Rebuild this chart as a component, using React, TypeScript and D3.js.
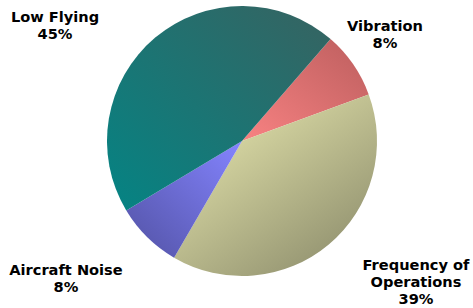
import React from 'react';
import * as d3 from 'd3';

const CATEGORIES = ['Vibration', 'Frequency of Operations', 'Aircraft Noise', 'Low Flying'];
const SHARES = [8, 39, 8, 45];
const LABEL_LINES = [['Vibration'], ['Frequency of', 'Operations'], ['Aircraft Noise'], ['Low Flying']];

// light -> dark stops per slice, plus gradient direction
const GRADS = [
  { from: '#f88282', to: '#bc5e5e', x1: 0, y1: 1, x2: 1, y2: 0 },
  { from: '#eaeab0', to: '#8a8a6a', x1: 0.1, y1: 0, x2: 0.9, y2: 1 },
  { from: '#8484ff', to: '#5252a4', x1: 1, y1: 0, x2: 0, y2: 1 },
  { from: '#048484', to: '#326664', x1: 0, y1: 1, x2: 0.9, y2: 0.1 },
];

const W = 473, H = 308;
const CX = 242, CY = 141, R = 135;
// label anchor (centre of first line baseline)
const LABEL_AT = [[385, 31], [416, 270], [66, 275], [55, 22]];

export default function App() {
  const pie = d3.pie<number>().sort(null).value(d => d).startAngle((41 * Math.PI) / 180).endAngle((401 * Math.PI) / 180);
  const arcs = pie(SHARES);
  const arc = d3.arc<d3.PieArcDatum<number>>().innerRadius(0).outerRadius(R);

  return (
    <svg width={W} height={H} style={{ position: 'absolute', left: 0, top: 0, background: '#fff' }}
      fontFamily="'DejaVu Sans', Verdana, sans-serif">
      <defs>
        {GRADS.map((g, i) => (
          <linearGradient key={i} id={'g' + i} x1={g.x1} y1={g.y1} x2={g.x2} y2={g.y2}>
            <stop offset="0%" stopColor={g.from} />
            <stop offset="100%" stopColor={g.to} />
          </linearGradient>
        ))}
      </defs>
      <g transform={`translate(${CX},${CY})`}>
        {arcs.map((a, i) => (
          <path key={CATEGORIES[i]} d={arc(a) || ''} fill={`url(#g${i})`} />
        ))}
      </g>
      {arcs.map((a, i) => {
        const [lx, ly] = LABEL_AT[i];
        const lines = [...LABEL_LINES[i], `${SHARES[i]}%`];
        return (
          <text key={i} x={lx} y={ly} textAnchor="middle" fontWeight="bold" fontSize={14.6} fill="#000">
            {lines.map((t, j) => (
              <tspan key={j} x={lx} dy={j === 0 ? 0 : 17}>{t}</tspan>
            ))}
          </text>
        );
      })}
    </svg>
  );
}
